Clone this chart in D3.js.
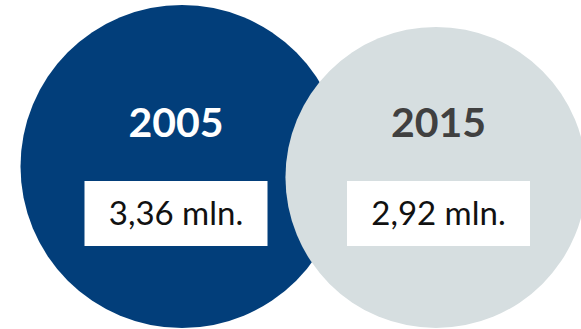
<!DOCTYPE html>
<meta charset="utf-8">
<script src="https://d3js.org/d3.v7.min.js"></script>
<style>
  body { margin: 0; background: #fff; }
  text { font-family: Lato, "Open Sans", sans-serif; }
</style>
<body>
<div id="chart"></div>
<script>
  // data
  var years = ["2005", "2015"];
  var values = [3.36, 2.92];
  var valueLabels = ["3,36 mln.", "2,92 mln."];
  var fills = ["#023e7a", "#d6dee0"];
  var yearColors = ["#ffffff", "#404040"];

  var width = 581, height = 329;
  var baseY = 328; // both circles rest on this line

  var svg = d3.select("#chart")
    .append("svg")
    .attr("width", width)
    .attr("height", height);

  // circle area follows the value
  var r = d3.scaleSqrt().domain([0, d3.max(values)]).range([0, 161.5]);
  var cx = d3.scalePoint().domain(years).range([182, 436]);
  var lx = d3.scalePoint().domain(years).range([176, 438.5]);

  var rows = years.map(function (y, i) {
    return { year: y, val: values[i], label: valueLabels[i], fill: fills[i], tc: yearColors[i] };
  });

  svg.selectAll("circle")
    .data(rows)
    .enter()
    .append("circle")
    .attr("cx", function (d) { return cx(d.year); })
    .attr("cy", function (d) { return baseY - r(d.val); })
    .attr("r", function (d) { return r(d.val); })
    .attr("fill", function (d) { return d.fill; });

  // year titles
  svg.selectAll(".year")
    .data(rows)
    .enter()
    .append("text")
    .attr("class", "year")
    .attr("x", function (d) { return lx(d.year); })
    .attr("y", 137)
    .attr("text-anchor", "middle")
    .style("font-weight", "bold")
    .style("font-size", "41px")
    .attr("fill", function (d) { return d.tc; })
    .text(function (d) { return d.year; });

  // white value boxes
  var boxW = 183, boxH = 65;
  svg.selectAll(".box")
    .data(rows)
    .enter()
    .append("rect")
    .attr("class", "box")
    .attr("x", function (d) { return lx(d.year) - boxW / 2; })
    .attr("y", 181)
    .attr("width", boxW)
    .attr("height", boxH)
    .attr("fill", "#ffffff");

  svg.selectAll(".val")
    .data(rows)
    .enter()
    .append("text")
    .attr("class", "val")
    .attr("x", function (d) { return lx(d.year); })
    .attr("y", 225)
    .attr("text-anchor", "middle")
    .style("font-size", "33px")
    .attr("fill", "#111111")
    .text(function (d) { return d.label; });
</script>
</body>
